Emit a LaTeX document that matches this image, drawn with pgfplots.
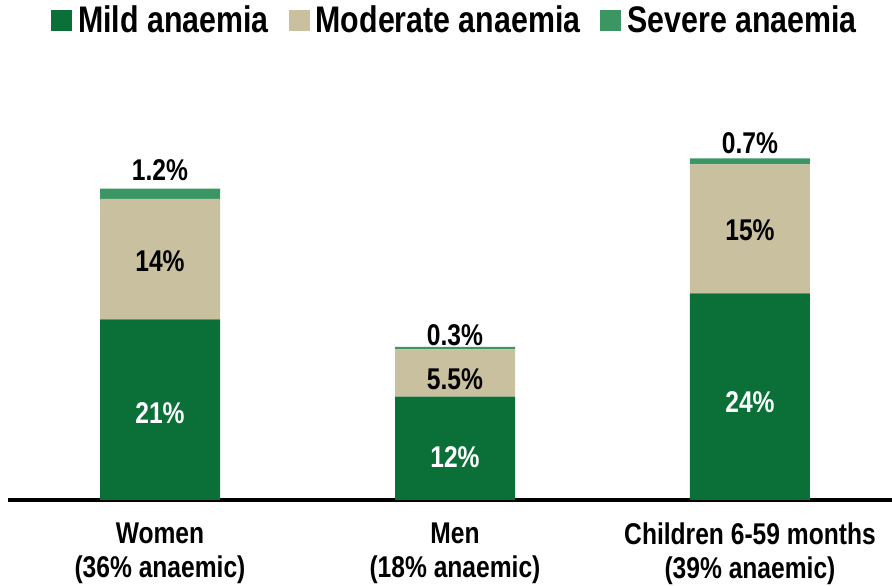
\documentclass[border=0pt]{standalone}
\usepackage{pgfplots}
\pgfplotsset{compat=1.18}
\usepackage{fontspec}
\setmainfont{Liberation Sans}[FakeStretch=0.82]
\definecolor{mild}{RGB}{10,112,56}
\definecolor{moderate}{RGB}{200,192,158}
\definecolor{severe}{RGB}{60,150,100}
\newcommand{\lab}{\bfseries\fontsize{30}{34}\selectfont}
\begin{document}
\begin{tikzpicture}
\path[use as bounding box] (-8pt,-86pt) rectangle (884pt,500pt);
\begin{axis}[
  scale only axis, width=884pt, height=370pt,
  xmin=-0.5153, xmax=2.4814, ymin=0, ymax=43,
  ybar stacked, bar width=120pt,
  axis x line*=bottom, hide y axis,
  x axis line style={line width=3.5pt},
  xtick={0,1,2},
  xticklabels={{Women\\(36\% anaemic)},{Men\\(18\% anaemic)},{Children 6-59 months\\(39\% anaemic)}},
  major tick length=0pt,
  xticklabel style={align=center, font=\lab, yshift=-19pt},
  legend columns=-1,
  legend style={at={(0.5,1)}, anchor=center, xshift=5pt, yshift=110pt, draw=none, fill=none,
    font=\bfseries\fontsize{37}{42}\selectfont,
    /tikz/every odd column/.append style={column sep=4pt},
    /tikz/every even column/.append style={column sep=18pt}},
  legend image code/.code={\fill[#1] (0pt,-11pt) rectangle (21pt,10pt);},
  clip=false,
]
\addplot[fill=mild, draw=none] coordinates {(0,21) (1,12) (2,24)};
\addplot[fill=moderate, draw=none] coordinates {(0,14) (1,5.5) (2,15)};
\addplot[fill=severe, draw=none] coordinates {(0,1.2) (1,0.3) (2,0.7)};
\legend{Mild anaemia, Moderate anaemia, Severe anaemia}
\coordinate (w1) at (axis cs:0,10.1);
\coordinate (w2) at (axis cs:0,27.7);
\coordinate (w3) at (axis cs:0,38.3);
\coordinate (m1) at (axis cs:1,5.0);
\coordinate (m2) at (axis cs:1,14.0);
\coordinate (m3) at (axis cs:1,19.1);
\coordinate (c1) at (axis cs:2,11.4);
\coordinate (c2) at (axis cs:2,31.3);
\coordinate (c3) at (axis cs:2,41.5);
\end{axis}
\node[font=\lab, text=white] at (w1) {21\%};
\node[font=\lab] at (w2) {14\%};
\node[font=\lab] at (w3) {1.2\%};
\node[font=\lab, text=white] at (m1) {12\%};
\node[font=\lab] at (m2) {5.5\%};
\node[font=\lab] at (m3) {0.3\%};
\node[font=\lab, text=white] at (c1) {24\%};
\node[font=\lab] at (c2) {15\%};
\node[font=\lab] at (c3) {0.7\%};
\end{tikzpicture}
\end{document}
